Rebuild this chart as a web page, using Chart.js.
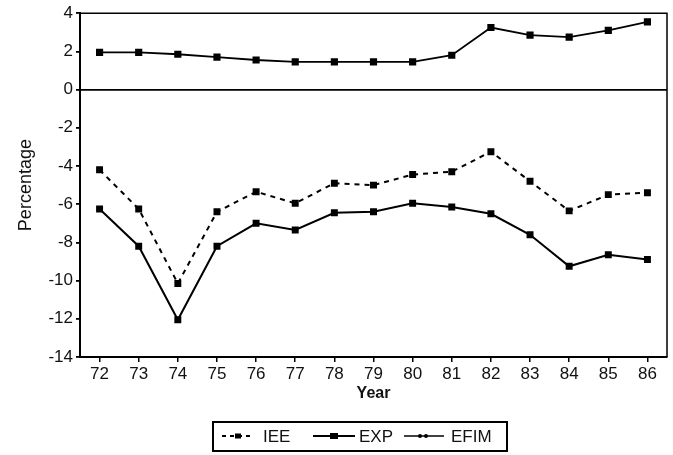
<!DOCTYPE html>
<html>
<head>
<meta charset="utf-8">
<script src="https://cdn.jsdelivr.net/npm/chart.js@4/dist/chart.umd.min.js"></script>
<style>
  html, body { margin: 0; padding: 0; background: #fff; }
  #wrap { position: relative; width: 673px; height: 455px; background: #fff; }
  #c { position: absolute; left: 0; top: 0; }
  #legend { position: absolute; left: 212px; top: 421px; width: 292px; height: 27px; border: 2px solid #000;
            font-family: "Liberation Sans", Arial, sans-serif; font-size: 17px; color: #111; }
  .item { position: absolute; top: 0; height: 27px; line-height: 27px; }
  .item svg { position: absolute; top: 8px; }
</style>
</head>
<body>
<div id="wrap">
  <canvas id="c" width="673" height="455"></canvas>
  <div id="legend"></div>
</div>
<script>
// ---- data ----
const years = ['72','73','74','75','76','77','78','79','80','81','82','83','84','85','86'];
const iee  = [-4.2, -6.25, -10.15, -6.4, -5.35, -5.95, -4.9, -5.0, -4.45, -4.3, -3.25, -4.8, -6.35, -5.5, -5.4];
const exp  = [-6.25, -8.2, -12.05, -8.2, -7.0, -7.35, -6.45, -6.4, -5.95, -6.15, -6.5, -7.6, -9.25, -8.65, -8.9];
const efim = [1.95, 1.95, 1.85, 1.7, 1.55, 1.45, 1.45, 1.45, 1.45, 1.8, 3.25, 2.85, 2.75, 3.1, 3.55];
const yTicks = [4, 2, 0, -2, -4, -6, -8, -10, -12, -14];
const seriesNames = ['IEE', 'EXP', 'EFIM'];

const FONT = '"Liberation Sans", Arial, sans-serif';

const framePlugin = {
  id: 'frame',
  afterDraw(chart) {
    const {ctx, chartArea: a} = chart;
    ctx.save();
    ctx.strokeStyle = '#000';
    ctx.lineWidth = 1.5;
    ctx.beginPath();
    ctx.moveTo(a.left, a.top);
    ctx.lineTo(a.right, a.top);
    ctx.lineTo(a.right, a.bottom);
    ctx.stroke();
    ctx.restore();
  }
};

new Chart(document.getElementById('c'), {
  type: 'line',
  data: {
    labels: years,
    datasets: [
      { label: seriesNames[0], data: iee, borderColor: '#000', backgroundColor: '#000', borderWidth: 2,
        borderDash: [5, 5], pointStyle: 'rect', pointRadius: 3.5, tension: 0 },
      { label: seriesNames[1], data: exp, borderColor: '#000', backgroundColor: '#000', borderWidth: 2,
        pointStyle: 'rect', pointRadius: 3.5, tension: 0 },
      { label: seriesNames[2], data: efim, borderColor: '#000', backgroundColor: '#000', borderWidth: 1.8,
        pointStyle: 'rect', pointRadius: 3.8, tension: 0 }
    ]
  },
  options: {
    responsive: false,
    animation: false,
    devicePixelRatio: 1,
    layout: { padding: { top: 13, right: 3, left: 0, bottom: 0 } },
    plugins: { legend: { display: false }, tooltip: { enabled: false } },
    scales: {
      x: {
        type: 'category',
        offset: true,
        grid: { offset: false, drawOnChartArea: false, color: '#000', tickColor: '#000', tickLength: 5, lineWidth: 1.5 },
        border: { display: true, color: '#000', width: 2 },
        ticks: { color: '#111', font: { family: FONT, size: 17 }, padding: 2, maxRotation: 0, autoSkip: false },
        title: { display: true, text: 'Year', color: '#111', font: { family: FONT, size: 16, weight: 'bold' },
                 padding: { top: 0, bottom: 52 } },
        afterFit(scale) { scale.height = 98; }
      },
      y: {
        min: -14, max: 4,
        afterBuildTicks(scale) { scale.ticks = yTicks.map(v => ({ value: v })); },
        grid: {
          color: (c) => (c.tick && c.tick.value === 0 ? '#000' : 'rgba(0,0,0,0)'),
          tickColor: '#000', tickLength: 4, lineWidth: 1.8
        },
        border: { display: true, color: '#000', width: 2 },
        ticks: { color: '#111', font: { family: FONT, size: 17 }, padding: 3 },
        title: { display: true, text: 'Percentage', color: '#111', font: { family: FONT, size: 18 },
                 padding: { top: 15, bottom: 0 } },
        afterFit(scale) { scale.width = 80; }
      }
    }
  },
  plugins: [framePlugin]
});

// ---- HTML legend ----
const legend = document.getElementById('legend');
const samples = [
  { left: 8,   svg: '<svg width="32" height="10"><line x1="0" y1="5" x2="32" y2="5" stroke="#000" stroke-width="2" stroke-dasharray="4,4"/><rect x="13" y="2.5" width="6" height="5" fill="#000"/></svg>', textLeft: 49 },
  { left: 99,  svg: '<svg width="42" height="10"><line x1="0" y1="5" x2="42" y2="5" stroke="#000" stroke-width="2.2"/><rect x="17" y="2" width="8" height="6" fill="#000"/></svg>', textLeft: 145 },
  { left: 190, svg: '<svg width="40" height="10"><line x1="0" y1="5" x2="40" y2="5" stroke="#000" stroke-width="1.6"/><circle cx="16" cy="5" r="2" fill="#000"/><circle cx="22" cy="5" r="2" fill="#000"/></svg>', textLeft: 237 }
];
seriesNames.forEach((name, i) => {
  const s = samples[i];
  const d = document.createElement('div');
  d.className = 'item';
  d.style.left = s.left + 'px';
  d.innerHTML = s.svg;
  legend.appendChild(d);
  const t = document.createElement('div');
  t.className = 'item';
  t.style.left = s.textLeft + 'px';
  t.textContent = name;
  legend.appendChild(t);
});
</script>
</body>
</html>
